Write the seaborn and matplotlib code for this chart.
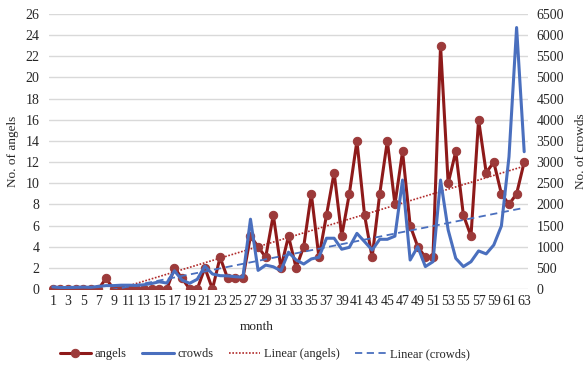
import numpy as np
import pandas as pd
import matplotlib
matplotlib.use("Agg")
import matplotlib.pyplot as plt
import seaborn as sns

months = list(range(1, 64))
angels = [0, 0, 0, 0, 0, 0, 0, 1, 0, 0, 0, 0, 0, 0, 0, 0, 2, 1, 0, 0,
          2, 0, 3, 1, 1, 1, 5, 4, 3, 7, 2, 5, 2, 4, 9, 3, 7, 11, 5, 9,
          14, 7, 3, 9, 14, 8, 13, 6, 4, 3, 3, 23, 10, 13, 7, 5, 16, 11, 12, 9,
          8, 9, 12]
crowds = [50, 35, 35, 40, 45, 40, 60, 80, 80, 90, 90, 85, 100, 130, 170, 140, 430, 210, 135, 230,
          540, 355, 315, 310, 290, 280, 1650, 440, 565, 525, 430, 870, 685, 590, 710, 750, 1200, 1200, 940, 985,
          1315, 1120, 920, 1175, 1175, 1250, 2575, 685, 1000, 530, 645, 2575, 1395, 725, 530, 645, 900, 830, 1040, 1490,
          3125, 6180, 3245]
month_ticks = list(range(1, 64, 2))

df = pd.DataFrame({"month": months, "angels": angels, "crowds": crowds})

sns.set_theme(style="white")
plt.rcParams["font.family"] = ["Liberation Serif", "DejaVu Serif"]

red = "#8e1a1a"
red_mk = "#9c3a3a"
blue = "#4a6fbe"
txt = "#262626"

fig = plt.figure(figsize=(5.87, 3.76), dpi=100)
ax = fig.add_axes([49 / 587, 1 - 289 / 376, 479 / 587, 275 / 376])
ax2 = ax.twinx()

# trend lines (least squares, like Excel's linear trendline)
sns.regplot(data=df, x="month", y="angels", ax=ax, scatter=False, ci=None,
            line_kws=dict(color="#b02a2a", ls=(0, (1, 1)), lw=1.2),
            label="Linear (angels)")
sns.lineplot(data=df, x="month", y="angels", ax=ax, color=red, lw=2.2,
             marker="o", markersize=6, markerfacecolor=red_mk,
             markeredgecolor=red_mk, label="angels")

sns.regplot(data=df, x="month", y="crowds", ax=ax2, scatter=False, ci=None,
            line_kws=dict(color=blue, ls=(0, (4, 2.5)), lw=1.3),
            label="Linear (crowds)")
sns.lineplot(data=df, x="month", y="crowds", ax=ax2, color=blue, lw=2.2,
             label="crowds")

for a in (ax, ax2):
    if a.get_legend() is not None:
        a.get_legend().remove()
    for s in a.spines.values():
        s.set_visible(False)
    a.tick_params(length=0, labelsize=10, labelcolor=txt)

ax.set_xlim(0.5, 63.5)
ax.set_xticks(month_ticks)
ax.set_ylim(0, 26)
ax.set_yticks(range(0, 27, 2))
ax2.set_ylim(0, 6500)
ax2.set_yticks(range(0, 6501, 500))
ax.grid(axis="y", color="#d9d9d9", lw=1)
ax.grid(axis="x", visible=False)
ax2.grid(False)
ax.set_axisbelow(True)
ax.tick_params(axis="y", pad=7)
ax.tick_params(axis="x", pad=4)
ax2.tick_params(axis="y", pad=6)

ax.set_xlabel("month", fontsize=9.5, color=txt)
ax.xaxis.set_label_coords(0.434, -0.116)
ax.set_ylabel("No. of angels", fontsize=9.5, color=txt)
ax.yaxis.set_label_coords(-0.063, 0.5)
ax2.set_ylabel("No. of crowds", fontsize=9.5, color=txt)
ax2.yaxis.set_label_coords(1.099, 0.5)

h1, l1 = ax.get_legend_handles_labels()
h2, l2 = ax2.get_legend_handles_labels()
hd = dict(zip(l1 + l2, h1 + h2))
order = ["angels", "crowds", "Linear (angels)", "Linear (crowds)"]
leg = fig.legend([hd[k] for k in order], order, loc="center",
                 bbox_to_anchor=(265 / 587, 1 - 354 / 376), ncol=4, frameon=False,
                 fontsize=9, handlelength=2.5, handletextpad=0.3, columnspacing=1.25)
for t in leg.get_texts():
    t.set_color(txt)

fig.savefig("out.png", dpi=100)
